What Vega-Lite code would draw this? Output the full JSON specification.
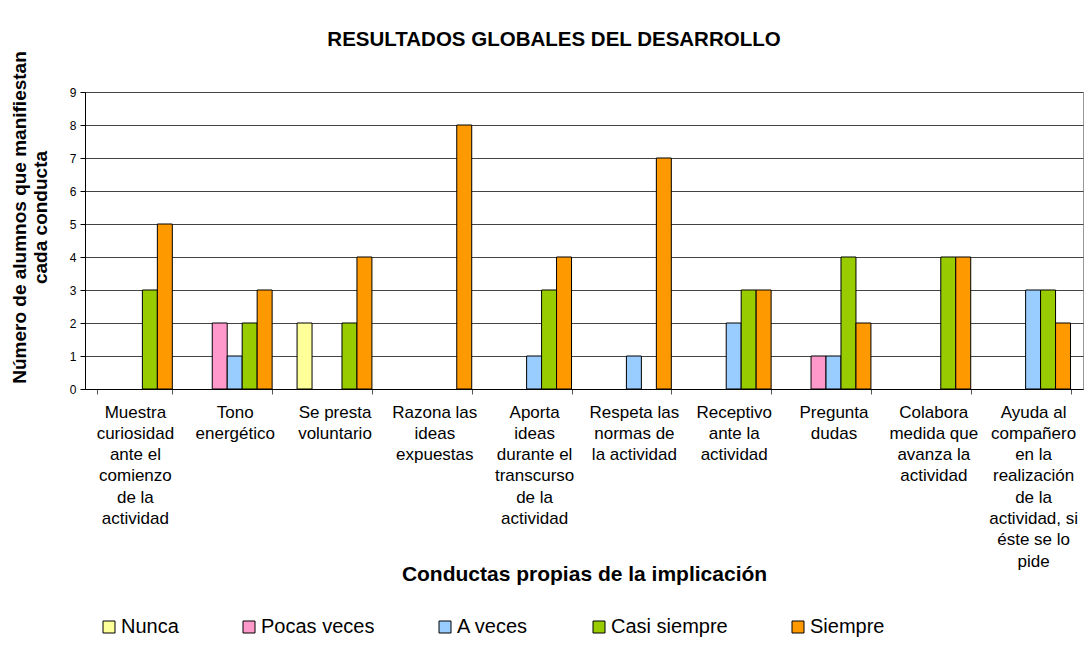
{
  "$schema": "https://vega.github.io/schema/vega-lite/v6.json",
  "width": 998,
  "height": 297,
  "autosize": "none",
  "padding": {"left": 85, "top": 92, "right": 5, "bottom": 281},
  "background": "white",
  "title": {
    "text": "RESULTADOS GLOBALES DEL DESARROLLO",
    "fontSize": 20.5,
    "fontWeight": "bold",
    "font": "Liberation Sans",
    "color": "black",
    "anchor": "middle",
    "baseline": "alphabetic",
    "offset": 6,
    "dy": 22,
    "dx": -30
  },
  "data": {
    "values": [
      {"conducta": "Muestra|curiosidad|ante el|comienzo|de la|actividad", "respuesta": "Casi siempre", "alumnos": 3},
      {"conducta": "Muestra|curiosidad|ante el|comienzo|de la|actividad", "respuesta": "Siempre", "alumnos": 5},
      {"conducta": "Tono|energético", "respuesta": "Pocas veces", "alumnos": 2},
      {"conducta": "Tono|energético", "respuesta": "A veces", "alumnos": 1},
      {"conducta": "Tono|energético", "respuesta": "Casi siempre", "alumnos": 2},
      {"conducta": "Tono|energético", "respuesta": "Siempre", "alumnos": 3},
      {"conducta": "Se presta|voluntario", "respuesta": "Nunca", "alumnos": 2},
      {"conducta": "Se presta|voluntario", "respuesta": "Casi siempre", "alumnos": 2},
      {"conducta": "Se presta|voluntario", "respuesta": "Siempre", "alumnos": 4},
      {"conducta": "Razona las|ideas|expuestas", "respuesta": "Siempre", "alumnos": 8},
      {"conducta": "Aporta|ideas|durante el|transcurso|de la|actividad", "respuesta": "A veces", "alumnos": 1},
      {"conducta": "Aporta|ideas|durante el|transcurso|de la|actividad", "respuesta": "Casi siempre", "alumnos": 3},
      {"conducta": "Aporta|ideas|durante el|transcurso|de la|actividad", "respuesta": "Siempre", "alumnos": 4},
      {"conducta": "Respeta las|normas de|la actividad", "respuesta": "A veces", "alumnos": 1},
      {"conducta": "Respeta las|normas de|la actividad", "respuesta": "Siempre", "alumnos": 7},
      {"conducta": "Receptivo|ante la|actividad", "respuesta": "A veces", "alumnos": 2},
      {"conducta": "Receptivo|ante la|actividad", "respuesta": "Casi siempre", "alumnos": 3},
      {"conducta": "Receptivo|ante la|actividad", "respuesta": "Siempre", "alumnos": 3},
      {"conducta": "Pregunta|dudas", "respuesta": "Pocas veces", "alumnos": 1},
      {"conducta": "Pregunta|dudas", "respuesta": "A veces", "alumnos": 1},
      {"conducta": "Pregunta|dudas", "respuesta": "Casi siempre", "alumnos": 4},
      {"conducta": "Pregunta|dudas", "respuesta": "Siempre", "alumnos": 2},
      {"conducta": "Colabora|medida que|avanza la|actividad", "respuesta": "Casi siempre", "alumnos": 4},
      {"conducta": "Colabora|medida que|avanza la|actividad", "respuesta": "Siempre", "alumnos": 4},
      {"conducta": "Ayuda al|compañero|en la|realización|de la|actividad, si|éste se lo|pide", "respuesta": "A veces", "alumnos": 3},
      {"conducta": "Ayuda al|compañero|en la|realización|de la|actividad, si|éste se lo|pide", "respuesta": "Casi siempre", "alumnos": 3},
      {"conducta": "Ayuda al|compañero|en la|realización|de la|actividad, si|éste se lo|pide", "respuesta": "Siempre", "alumnos": 2}
    ]
  },
  "mark": {"type": "bar", "stroke": "black", "strokeWidth": 1},
  "encoding": {
    "x": {
      "field": "conducta",
      "type": "nominal",
      "sort": null,
      "scale": {"paddingInner": 0.25, "paddingOuter": 0.125},
      "axis": {
        "title": "Conductas propias de la implicación",
        "titleFont": "Liberation Sans",
        "titleFontSize": 21,
        "titleFontWeight": "bold",
        "titleColor": "black",
        "titleBaseline": "alphabetic",
        "titleY": 191,
        "labelExpr": "split(datum.label, '|')",
        "labelAngle": 0,
        "labelFont": "Liberation Sans",
        "labelFontSize": 17,
        "labelLineHeight": 21.3,
        "labelColor": "black",
        "labelBaseline": "top",
        "labelPadding": 10,
        "labelLimit": 0,
        "tickBand": "extent",
        "tickSize": 5,
        "tickColor": "#555",
        "domainColor": "black",
        "grid": false
      }
    },
    "xOffset": {
      "field": "respuesta",
      "type": "nominal",
      "scale": {"domain": ["Nunca", "Pocas veces", "A veces", "Casi siempre", "Siempre"], "paddingInner": 0, "paddingOuter": 0}
    },
    "y": {
      "field": "alumnos",
      "type": "quantitative",
      "scale": {"domain": [0, 9], "nice": false},
      "axis": {
        "title": ["Número de alumnos que manifiestan", "cada conducta"],
        "titleFont": "Liberation Sans",
        "titleFontSize": 19,
        "titleFontWeight": "bold",
        "titleColor": "black",
        "titleLineHeight": 21,
        "titlePadding": 19,
        "titleY": 125,
        "values": [0, 1, 2, 3, 4, 5, 6, 7, 8, 9],
        "labelOverlap": false,
        "labelFont": "Liberation Sans",
        "labelFontSize": 12,
        "labelColor": "black",
        "labelPadding": 4,
        "tickSize": 5,
        "tickColor": "black",
        "domainColor": "black",
        "grid": true,
        "gridColor": "#444",
        "gridWidth": 1
      }
    },
    "color": {
      "field": "respuesta",
      "type": "nominal",
      "scale": {
        "domain": ["Nunca", "Pocas veces", "A veces", "Casi siempre", "Siempre"],
        "range": ["#FFFF99", "#FF99CC", "#99CCFF", "#99CC00", "#FF9900"]
      },
      "legend": {
        "title": null,
        "orient": "none",
        "direction": "horizontal",
        "legendX": 14,
        "legendY": 525,
        "symbolType": "square",
        "symbolSize": 144,
        "symbolStrokeColor": "black",
        "symbolStrokeWidth": 1,
        "labelFont": "Liberation Sans",
        "labelFontSize": 20,
        "labelColor": "black",
        "labelOffset": 2,
        "columnPadding": 60,
        "labelLimit": 0
      }
    }
  },
  "config": {
    "view": {"stroke": "#999"},
    "font": "Liberation Sans"
  }
}
